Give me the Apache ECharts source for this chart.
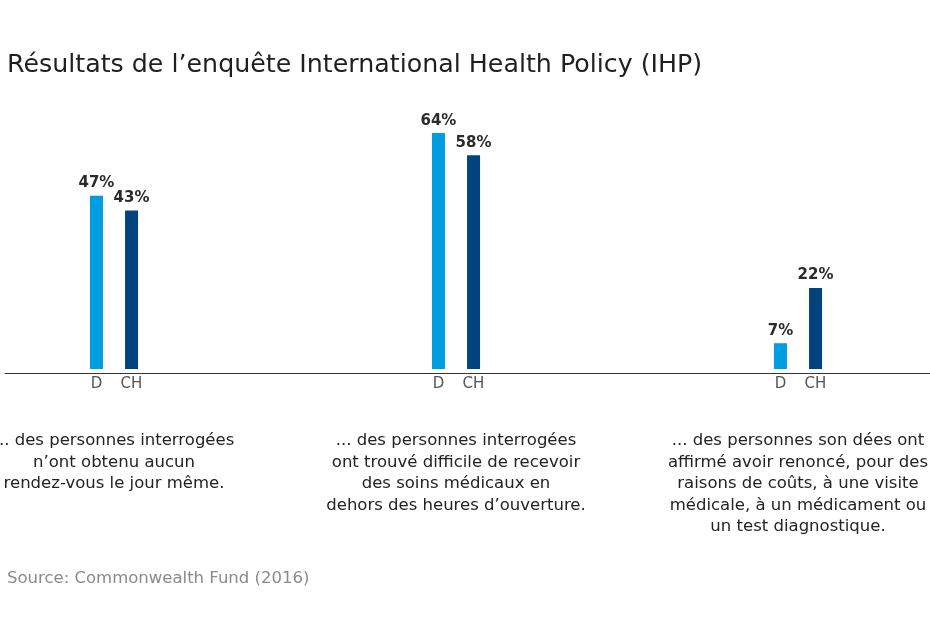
<!DOCTYPE html>
<html>
<head>
<meta charset="utf-8">
<script src="https://cdn.jsdelivr.net/npm/echarts@6/dist/echarts.min.js"></script>
<style>
  html, body { margin: 0; padding: 0; background: #fff; }
  #main { width: 930px; height: 620px; }
</style>
</head>
<body>
<div id="main"></div>
<script>
// données
var groupTexts = [
  ['... des personnes interrogées', 'n’ont obtenu aucun', 'rendez-vous le jour même.'],
  ['... des personnes interrogées', 'ont trouvé difficile de recevoir', 'des soins médicaux en', 'dehors des heures d’ouverture.'],
  ['... des personnes son dées ont', 'affirmé avoir renoncé, pour des', 'raisons de coûts, à une visite', 'médicale, à un médicament ou', 'un test diagnostique.']
];
var seriesNames = ['D', 'CH'];
var valuesD = [47, 64, 7];
var valuesCH = [43, 58, 22];

var FONT = '"DejaVu Sans", "Open Sans", sans-serif';

var myChart = echarts.init(document.getElementById('main'));

var categories = groupTexts.map(function (lines, i) { return 'g' + i; });

var valueLabel = {
  show: true, position: 'top', distance: 5,
  formatter: '{c}%',
  fontFamily: FONT, fontSize: 15, fontWeight: 'bold', color: '#2b2b2b'
};

myChart.setOption({
  animation: false,
  title: [{
    text: 'Résultats de l’enquête International Health Policy (IHP)',
    left: 2, top: 48,
    textStyle: { fontFamily: FONT, fontSize: 25.3, fontWeight: 'normal', color: '#1f1f1f' }
  }, {
    text: 'Source: Commonwealth Fund (2016)',
    left: 2, top: 565,
    textStyle: { fontFamily: FONT, fontSize: 16.5, fontWeight: 'normal', color: '#8a8a8a' }
  }],
  grid: [
    { left: 114, right: 132, top: 111, bottom: 251, containLabel: false, outerBoundsMode: 'none' },
    { left: 5, right: 0, top: 111, bottom: 251, containLabel: false, outerBoundsMode: 'none' }
  ],
  xAxis: [{
    type: 'category',
    data: categories,
    boundaryGap: false,
    gridIndex: 0,
    offset: 4,
    axisLine: { show: false, onZero: false },
    axisTick: { show: false },
    axisLabel: {
      margin: 1,
      interval: 0,
      formatter: function (val, idx) {
        var s = '{d|' + seriesNames[0] + '}{c|' + seriesNames[1] + '}\n{sp|}';
        groupTexts[idx].forEach(function (l) { s += '\n{t|' + l + '}'; });
        return s;
      },
      rich: {
        d: { width: 35, align: 'center', fontFamily: FONT, fontSize: 15, color: '#555', lineHeight: 20 },
        c: { width: 35, align: 'center', fontFamily: FONT, fontSize: 15, color: '#555', lineHeight: 20 },
        sp: { lineHeight: 36 },
        t: { fontFamily: FONT, fontSize: 16.5, fontWeight: 'normal', color: '#222', lineHeight: 21.5, align: 'center' }
      }
    }
  }, {
    // ligne de base sur toute la largeur
    type: 'value',
    gridIndex: 1,
    offset: 4,
    axisLine: { show: true, onZero: false, lineStyle: { color: '#333', width: 1 } },
    axisTick: { show: false },
    axisLabel: { show: false },
    splitLine: { show: false }
  }],
  yAxis: [{
    type: 'value', min: 0, max: 70, gridIndex: 0,
    show: false,
    splitLine: { show: false }
  }, {
    type: 'value', gridIndex: 1, show: false, splitLine: { show: false }
  }],
  series: [{
    name: seriesNames[0],
    type: 'bar',
    data: valuesD,
    barWidth: 13,
    barGap: '170%',
    itemStyle: { color: '#009ee0' },
    label: valueLabel
  }, {
    name: seriesNames[1],
    type: 'bar',
    data: valuesCH,
    barWidth: 13,
    barGap: '170%',
    itemStyle: { color: '#00437f' },
    label: valueLabel
  }]
});
</script>
</body>
</html>
